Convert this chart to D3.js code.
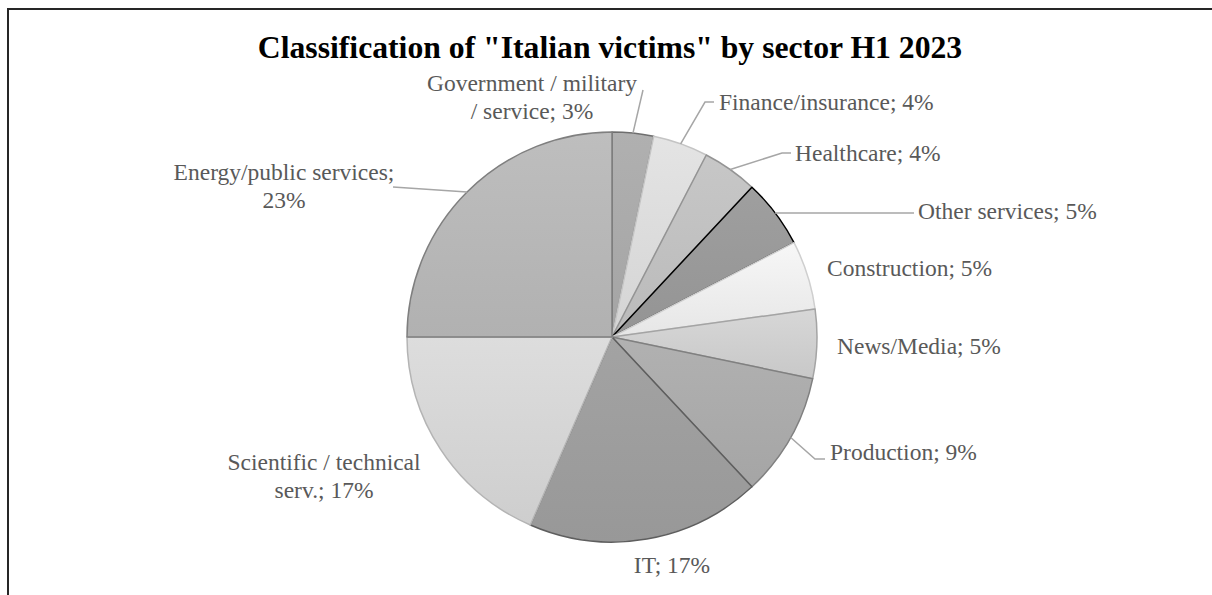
<!DOCTYPE html>
<html>
<head>
<meta charset="utf-8">
<script src="https://cdn.jsdelivr.net/npm/d3@7"></script>
<style>
  html, body { margin: 0; padding: 0; background: #fff; }
  svg { display: block; }
</style>
</head>
<body>
<svg id="chart" width="1212" height="595"></svg>
<script>
// Sector shares (%), clockwise from 12 o'clock
const sectors = [
  "Government / military / service",
  "Finance/insurance",
  "Healthcare",
  "Other services",
  "Construction",
  "News/Media",
  "Production",
  "IT",
  "Scientific / technical serv.",
  "Energy/public services"
];
const shares = [3, 4, 4, 5, 5, 5, 9, 17, 17, 23];

// Grey palette: slice fill and slice outline
const fills   = ["#a9a9a9", "#dadada", "#bfbfbf", "#989898", "#ededed", "#cecece", "#aaaaaa", "#9c9c9c", "#d4d4d4", "#b6b6b6"];
const strokes = ["#6e6e6e", "#c4c4c4", "#949494", "#000000", "#cfcfcf", "#a4a4a4", "#808080", "#5e5e5e", "#b4b4b4", "#7f7f7f"];

const title = 'Classification of "Italian victims" by sector H1 2023';

// Label placement relative to the pie centre: block centre (dx, dy), anchor, wrap width,
// and optional leader elbow/end points.
const labelLayout = [
  { dx: -80,  dy: -240, anchor: "middle", wrap: 216, leader: [[31, -247]] },
  { dx: 107,  dy: -235, anchor: "start",  wrap: 400, leader: [[93, -235], [102, -235]] },
  { dx: 183,  dy: -184, anchor: "start",  wrap: 400, leader: [[170, -184], [179, -184]] },
  { dx: 306,  dy: -126, anchor: "start",  wrap: 400, leader: [[163, -124], [302, -124]] },
  { dx: 215,  dy: -69,  anchor: "start",  wrap: 400, leader: null },
  { dx: 225,  dy: 9,    anchor: "start",  wrap: 400, leader: null },
  { dx: 218,  dy: 115,  anchor: "start",  wrap: 400, leader: [[203, 122], [213, 122]] },
  { dx: 60,   dy: 228,  anchor: "middle", wrap: 400, leader: null },
  { dx: -288, dy: 139,  anchor: "middle", wrap: 210, leader: null },
  { dx: -328, dy: -151, anchor: "middle", wrap: 240, leader: [[-219, -150]] }
];

const width = 1212, height = 595;
const cx = 612, cy = 337, radius = 205;
const labelFont = "'Liberation Serif', 'Times New Roman', serif";
const lineHeight = 28;

const svg = d3.select("#chart");

// Outer chart frame (left and top edges visible)
svg.append("path")
  .attr("d", `M8,${height + 2} L8,9 L${width + 2},9`)
  .attr("fill", "none")
  .attr("stroke", "#262626")
  .attr("stroke-width", 2);

// Title
svg.append("text")
  .attr("x", 610)
  .attr("y", 58)
  .attr("text-anchor", "middle")
  .attr("font-family", labelFont)
  .attr("font-weight", "bold")
  .attr("font-size", 31.7)
  .attr("fill", "#000")
  .text(title);

const data = sectors.map((name, i) => ({ name, value: shares[i], i }));

const pie = d3.pie().value(d => d.value).sort(null);
const arcs = pie(data);
const arc = d3.arc().innerRadius(0).outerRadius(radius);

// Soft vertical shading for each slice
const defs = svg.append("defs");
fills.forEach((c, i) => {
  const g = defs.append("linearGradient")
    .attr("id", "grad" + i)
    .attr("x1", 0).attr("y1", 0).attr("x2", 0).attr("y2", 1);
  g.append("stop").attr("offset", "0%").attr("stop-color", d3.color(c).brighter(0.12));
  g.append("stop").attr("offset", "100%").attr("stop-color", d3.color(c).darker(0.08));
});

const g = svg.append("g").attr("transform", `translate(${cx},${cy})`);

g.selectAll("path.slice")
  .data(arcs)
  .join("path")
  .attr("class", "slice")
  .attr("d", arc)
  .attr("fill", d => `url(#grad${d.data.i})`)
  .attr("stroke", d => strokes[d.data.i])
  .attr("stroke-width", 1.5)
  .attr("stroke-linejoin", "round");

// Leader lines from the middle of each slice's rim
const rim = d => {
  const a = (d.startAngle + d.endAngle) / 2;
  return [radius * Math.sin(a), -radius * Math.cos(a)];
};

g.selectAll("path.leader")
  .data(arcs.filter(d => labelLayout[d.data.i].leader))
  .join("path")
  .attr("class", "leader")
  .attr("d", d => d3.line()([rim(d), ...labelLayout[d.data.i].leader]))
  .attr("fill", "none")
  .attr("stroke", "#a6a6a6")
  .attr("stroke-width", 1.5);

// Data labels: "<sector>; <share>%"
const labels = g.selectAll("text.label")
  .data(arcs)
  .join("text")
  .attr("class", "label")
  .attr("font-family", labelFont)
  .attr("font-size", 23.5)
  .attr("fill", "#595959")
  .attr("text-anchor", d => labelLayout[d.data.i].anchor);

labels.each(function (d) {
  const L = labelLayout[d.data.i];
  const el = d3.select(this);
  const words = `${d.data.name}; ${d.data.value}%`.split(" ");
  // greedy word wrap to the label's width
  const lines = [];
  let cur = [];
  const probe = el.append("tspan");
  words.forEach(w => {
    const test = cur.concat(w).join(" ");
    probe.text(test);
    if (cur.length && probe.node().getComputedTextLength() > L.wrap) {
      lines.push(cur.join(" "));
      cur = [w];
    } else {
      cur.push(w);
    }
  });
  lines.push(cur.join(" "));
  probe.remove();

  const startY = L.dy - (lines.length - 1) * lineHeight / 2;
  lines.forEach((t, k) => {
    el.append("tspan")
      .attr("x", L.dx)
      .attr("y", startY + k * lineHeight)
      .attr("dy", "0.35em")
      .text(t);
  });
});
</script>
</body>
</html>
